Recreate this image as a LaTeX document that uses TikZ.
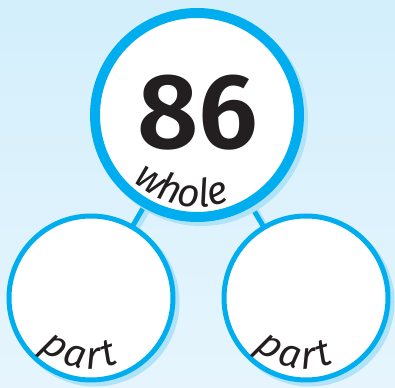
\documentclass[tikz,border=0pt]{standalone}
\usepackage{fontspec}
\setmainfont{Fira Sans}
\newfontfamily\numfont{Fira Sans SemiBold}
\newfontfamily\handfont{Fira Sans}
\usetikzlibrary{decorations.text}
\definecolor{bgtop}{HTML}{D3EFFC}
\definecolor{bgbot}{HTML}{E6F5FD}
\definecolor{cyanb}{HTML}{00AEEF}
\definecolor{shadowb}{HTML}{B0E2F8}
\definecolor{inkc}{HTML}{231F20}
\tikzset{
  x=1pt, y=1pt,
  conn/.style={draw=cyanb, line width=5},
  connshadow/.style={draw=shadowb, line width=5},
  bigcirc/.style={circle, draw=cyanb, fill=white, line width=10, minimum size=204, inner sep=0},
  smallcirc/.style={circle, draw=cyanb, fill=white, line width=5, minimum size=164, inner sep=0},
  bigshadow/.style={circle, fill=shadowb, minimum size=214, inner sep=0},
  smallshadow/.style={circle, fill=shadowb, minimum size=169, inner sep=0},
  numtext/.style={font=\numfont\fontsize{107}{107}\selectfont, text=inkc},
}
\begin{document}
\begin{tikzpicture}
\useasboundingbox (0,0) rectangle (395,387);
\shade[top color=bgtop, bottom color=bgbot] (0,0) rectangle (395,387);
% centres
\coordinate (wc) at (197,272);
\coordinate (lc) at (91,89);
\coordinate (rc) at (306,89);
% connector shadows and connectors
\draw[connshadow] ([shift={(4,-3)}]wc) -- ([shift={(4,-3)}]lc);
\draw[connshadow] ([shift={(4,-3)}]wc) -- ([shift={(4,-3)}]rc);
\draw[conn] (wc) -- (lc);
\draw[conn] (wc) -- (rc);
% shadows
\node[bigshadow] (ws) at ([shift={(4,-4)}]wc) {};
\node[smallshadow] (ls) at ([shift={(4,-4)}]lc) {};
\node[smallshadow] (rs) at ([shift={(4,-4)}]rc) {};
% circles
\node[bigcirc] (whole) at (wc) {};
\node[smallcirc] (left) at (lc) {};
\node[smallcirc] (right) at (rc) {};
% number
\node[numtext] (num) at (198,274) {86};
% curved labels
\path[decorate, decoration={text along path, text align=fit to path,
  text={|\color{inkc}\handfont\itshape\fontsize{39}{39}\selectfont|whole}}]
  (wc) ++(226:92) arc[start angle=226, end angle=291, radius=92];
\path[decorate, decoration={text along path, text align=fit to path,
  text={|\color{inkc}\handfont\itshape\fontsize{39}{39}\selectfont|part}}]
  (lc) ++(224:71) arc[start angle=224, end angle=293, radius=71];
\path[decorate, decoration={text along path, text align=fit to path,
  text={|\color{inkc}\handfont\itshape\fontsize{39}{39}\selectfont|part}}]
  (rc) ++(224:71) arc[start angle=224, end angle=293, radius=71];
\end{tikzpicture}
\end{document}
